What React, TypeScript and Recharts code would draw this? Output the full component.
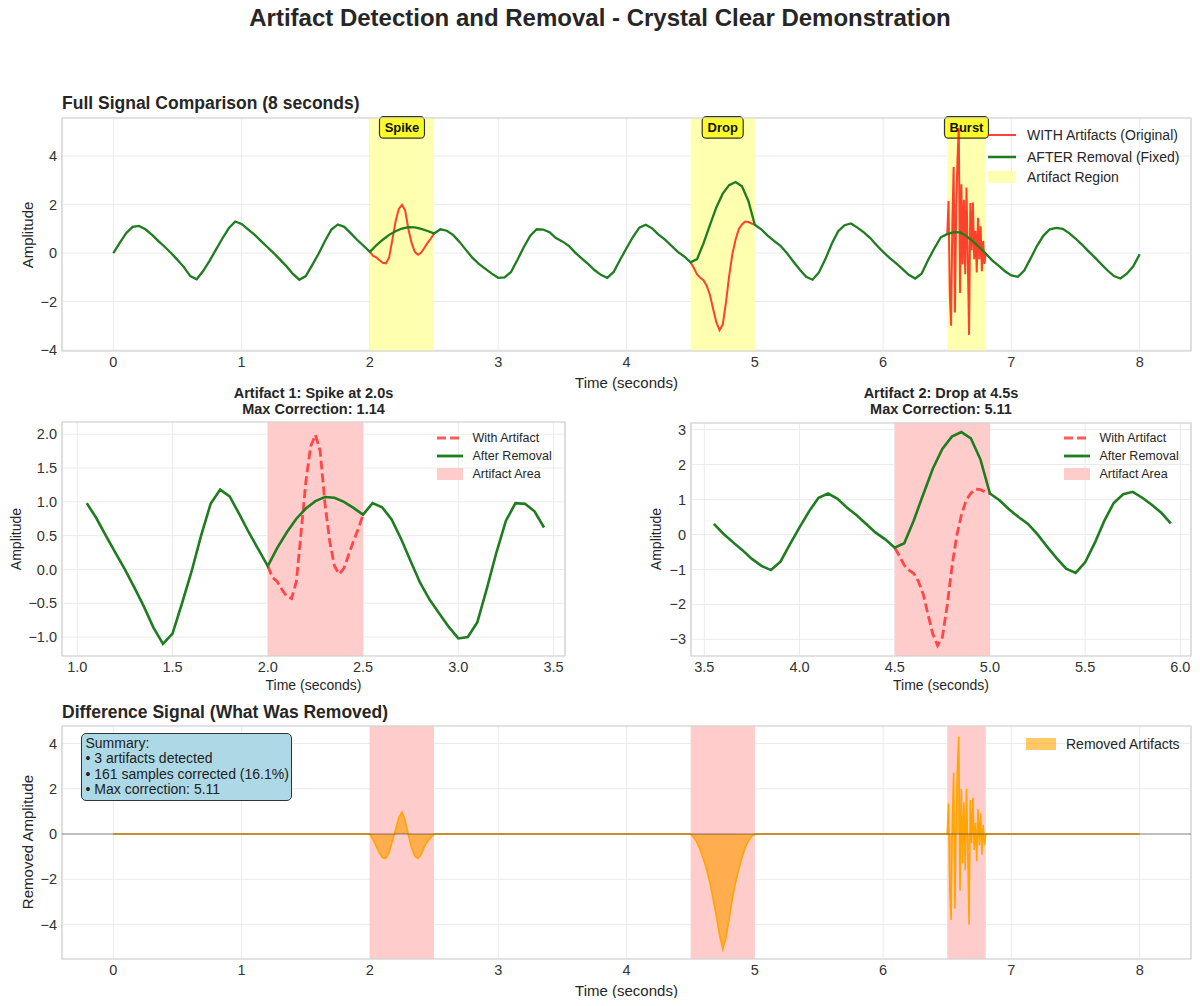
import React from 'react';
import {
  ComposedChart,
  Line,
  Area,
  XAxis,
  YAxis,
  CartesianGrid,
  ReferenceArea,
  ReferenceLine,
} from 'recharts';

const FONT = 'Arial, "Liberation Sans", Helvetica, sans-serif';

// clean / fixed signal, one value every 0.05 s from 0 to 8 s
const CLEAN_STEP = 0.05;
const cleanSignal = [
  0.0, 0.42, 0.82, 1.08, 1.12, 0.98, 0.76, 0.5, 0.26, 0.0,
  -0.28, -0.58, -0.95, -1.08, -0.74, -0.32, 0.14, 0.6, 1.02, 1.3,
  1.2, 0.98, 0.76, 0.5, 0.25, 0.0, -0.27, -0.55, -0.86, -1.1,
  -0.95, -0.5, -0.03, 0.5, 0.97, 1.18, 1.08, 0.82, 0.55, 0.3,
  0.05, 0.32, 0.55, 0.75, 0.9, 1.01, 1.07, 1.06, 1.0, 0.91,
  0.81, 0.98, 0.92, 0.74, 0.45, 0.12, -0.2, -0.45, -0.65, -0.85,
  -1.02, -1.0, -0.78, -0.28, 0.25, 0.72, 0.98, 0.97, 0.86, 0.62,
  0.48, 0.3, 0.02, -0.22, -0.45, -0.7, -0.9, -1.02, -0.78, -0.28,
  0.2, 0.66, 1.05, 1.17, 1.02, 0.76, 0.55, 0.3, 0.05, -0.14,
  -0.38, -0.25, 0.4, 1.15, 1.88, 2.45, 2.8, 2.93, 2.75, 2.15,
  1.17, 0.98, 0.72, 0.5, 0.3, 0.0, -0.35, -0.68, -0.98, -1.1,
  -0.8, -0.25, 0.38, 0.9, 1.15, 1.22, 1.05, 0.85, 0.62, 0.32,
  0.05, -0.2, -0.42, -0.65, -0.9, -1.05, -0.85, -0.3, 0.2, 0.65,
  0.78, 0.86, 0.85, 0.7, 0.48, 0.24, -0.02, -0.3, -0.52, -0.75,
  -0.92, -0.98, -0.72, -0.22, 0.3, 0.72, 0.98, 1.04, 1.0, 0.82,
  0.6, 0.35, 0.08, -0.18, -0.45, -0.72, -0.95, -1.05, -0.85, -0.55,
  -0.05,
];

// original signal inside the artifact windows
const ARTIFACT_STEP = 0.025;
const BURST_STEP = 0.01;
const spikeOriginal = [
  0.05, -0.12, -0.18, -0.3, -0.4, -0.43, -0.18, 0.55, 1.3, 1.82, 1.99,
  1.75, 0.98, 0.42, 0.05, -0.07, 0.02, 0.22, 0.42, 0.6, 0.81,
];
const dropOriginal = [
  -0.38, -0.62, -0.88, -1.02, -1.12, -1.35, -1.72, -2.3, -2.85, -3.18, -2.95,
  -2.05, -0.95, -0.05, 0.55, 0.98, 1.18, 1.3, 1.28, 1.22, 1.17,
];
const burstOriginal = [
  0.78, 2.15, -1.7, -3.0, 1.3, 3.55, -2.45, 1.87, 3.87, 5.15, -1.65,
  2.84, -0.47, 2.2, -0.87, 2.7, -0.15, -3.38, 2.06, 0.12, 2.08,
  -0.25, 0.92, -0.8, 1.45, -0.25, 1.1, -0.75, 0.5, -0.45, -0.02,
];

// what was removed (original minus fixed)
const spikeRemoved = [
  0, -0.25, -0.55, -0.85, -1.05, -1.08, -0.8, -0.3, 0.2, 0.72, 0.98,
  0.6, -0.05, -0.62, -0.98, -1.08, -0.9, -0.55, -0.32, -0.15, 0,
];
const dropRemoved = [
  0, -0.15, -0.38, -0.7, -1.1, -1.58, -2.15, -2.85, -3.6, -4.45, -5.08,
  -4.6, -3.75, -2.85, -2.15, -1.55, -1.05, -0.6, -0.3, -0.1, 0,
];
const burstRemoved = [
  0, 1.35, -2.5, -3.8, 0.5, 2.7, -3.3, 1.0, 3.0, 4.3, -2.5,
  2.0, -1.3, 1.4, -1.6, 2.0, -0.8, -4.0, 1.5, -0.4, 1.6,
  -0.7, 0.5, -1.2, 1.1, -0.5, 0.9, -0.9, 0.4, -0.5, 0,
];

const artifacts = [
  { name: 'Spike', start: 2.0, end: 2.5, tagWidth: 45 },
  { name: 'Drop', start: 4.5, end: 5.0, tagWidth: 41 },
  { name: 'Burst', start: 6.5, end: 6.8, tagWidth: 44 },
];

const fullXTicks = [0, 1, 2, 3, 4, 5, 6, 7, 8];
const fullYTicks = [-4, -2, 0, 2, 4];
const zoom1XTicks = [1.0, 1.5, 2.0, 2.5, 3.0, 3.5];
const zoom1YTicks = [-1.0, -0.5, 0, 0.5, 1.0, 1.5, 2.0];
const zoom2XTicks = [3.5, 4.0, 4.5, 5.0, 5.5, 6.0];
const zoom2YTicks = [-3, -2, -1, 0, 1, 2, 3];
const zoom1Window = [1.05, 3.45];
const zoom2Window = [3.55, 5.95];

const summaryLines = [
  'Summary:',
  '• 3 artifacts detected',
  '• 161 samples corrected (16.1%)',
  '• Max correction: 5.11',
];

const GREEN = '#1e7d1e';
const GRID = '#ebebeb';
const FRAME = '#d0d0d0';
const TICK = { fill: '#333', fontSize: 14.5 };

const toPoints = (values: number[], start: number, step: number) =>
  values.map((v, i) => ({ t: +(start + i * step).toFixed(3), v }));

const cleanPoints = toPoints(cleanSignal, 0, CLEAN_STEP);
const spikePoints = toPoints(spikeOriginal, 2.0, ARTIFACT_STEP);
const dropPoints = toPoints(dropOriginal, 4.5, ARTIFACT_STEP);
const burstPoints = toPoints(burstOriginal, 6.5, BURST_STEP);
const removedPoints = [
  { t: 0, v: 0 },
  ...toPoints(spikeRemoved, 2.0, ARTIFACT_STEP),
  ...toPoints(dropRemoved, 4.5, ARTIFACT_STEP),
  ...toPoints(burstRemoved, 6.5, BURST_STEP),
  { t: 8, v: 0 },
];
const windowed = (w: number[]) =>
  cleanPoints.filter((p) => p.t >= w[0] - 1e-9 && p.t <= w[1] + 1e-9);

const fmtInt = (v: number) => (v < 0 ? `\u2212${-v}` : `${v}`);
const fmt1 = (v: number) => (v < 0 ? '\u2212' : '') + Math.abs(v).toFixed(1);

function Txt({ x, y, size, bold, rotate, anchor = 'middle', children }: any) {
  const tx = anchor === 'start' ? '0' : '-50%';
  return (
    <div
      style={{
        position: 'absolute',
        left: x,
        top: y,
        transform: `translate(${tx},-50%)${rotate ? ' rotate(-90deg)' : ''}`,
        fontSize: size,
        fontWeight: bold ? 700 : 400,
        whiteSpace: 'nowrap',
        color: '#262626',
        lineHeight: 1,
      }}
    >
      {children}
    </div>
  );
}

function SpanTag({ viewBox, text, width }: any) {
  if (!viewBox) return null;
  const cx = viewBox.x + viewBox.width / 2;
  const y = viewBox.y - 1.3;
  return (
    <g>
      <rect x={cx - width / 2} y={y} width={width} height={21.5} rx={4} fill="#fbfb2a" stroke="#333" strokeWidth={1.2} />
      <text x={cx} y={y + 11} textAnchor="middle" dominantBaseline="central" fontSize={13} fontWeight={700} fill="#111" fontFamily={FONT}>
        {text}
      </text>
    </g>
  );
}

// legend drawn as plain html so it does not shrink the plot area
function LegendBox({ sampleX, sampleW, textX, rows, items, size }: any) {
  return (
    <>
      {items.map((it: any, i: number) => (
        <React.Fragment key={it.label}>
          <svg style={{ position: 'absolute', left: sampleX, top: rows[i] - 7 }} width={sampleW} height={14}>
            {it.kind === 'patch' ? (
              <rect x={0} y={1} width={sampleW} height={12} fill={it.color} fillOpacity={it.opacity ?? 1} />
            ) : (
              <line
                x1={0}
                x2={sampleW}
                y1={7}
                y2={7}
                stroke={it.color}
                strokeOpacity={it.opacity ?? 1}
                strokeWidth={it.width ?? 2}
                strokeDasharray={it.kind === 'dash' ? '9 4' : undefined}
              />
            )}
          </svg>
          <Txt x={textX} y={rows[i]} size={size} anchor="start">
            {it.label}
          </Txt>
        </React.Fragment>
      ))}
    </>
  );
}

function Frame({ x, y }: { x: number[]; y: number[] }) {
  return <ReferenceArea x1={x[0]} x2={x[1]} y1={y[0]} y2={y[1]} fill="none" stroke={FRAME} strokeWidth={1.2} ifOverflow="visible" />;
}

function FullChart() {
  const xDom = [-0.4, 8.4];
  const yDom = [-4.04, 5.57];
  return (
    <div style={{ position: 'absolute', left: 0, top: 100 }}>
      <ComposedChart width={1200} height={285} margin={{ top: 18, right: 9, left: 0, bottom: 0 }}>
        <CartesianGrid stroke={GRID} />
        <XAxis type="number" dataKey="t" domain={xDom} ticks={fullXTicks} allowDataOverflow height={34} tickSize={0} tickMargin={6} axisLine={false} tick={TICK} tickFormatter={fmtInt} interval={0} />
        <YAxis type="number" domain={yDom} ticks={fullYTicks} allowDataOverflow width={62} tickSize={0} tickMargin={5} axisLine={false} tick={TICK} tickFormatter={fmtInt} interval={0} />
        {artifacts.map((a) => (
          <ReferenceArea key={a.name} x1={a.start} x2={a.end} fill="#ffffb0" fillOpacity={1} stroke="none" />
        ))}
        {[spikePoints, dropPoints, burstPoints].map((pts, i) => (
          <Line key={i} data={pts} dataKey="v" type="linear" stroke="#ff0000" strokeOpacity={0.75} strokeWidth={2} dot={false} activeDot={false} isAnimationActive={false} />
        ))}
        <Line data={cleanPoints} dataKey="v" type="linear" stroke={GREEN} strokeWidth={2.3} dot={false} activeDot={false} isAnimationActive={false} />
        {artifacts.map((a) => (
          <ReferenceArea key={`tag-${a.name}`} x1={a.start} x2={a.end} fill="none" stroke="none" label={<SpanTag text={a.name} width={a.tagWidth} />} />
        ))}
        <Frame x={xDom} y={yDom} />
      </ComposedChart>
    </div>
  );
}

function ZoomChart({ left, yWidth, right, top, xDom, yDom, xTicks, yTicks, window, artifactPts, span }: any) {
  return (
    <div style={{ position: 'absolute', left, top: 415 }}>
      <ComposedChart width={600} height={270} margin={{ top, right, left: 0, bottom: 0 }}>
        <CartesianGrid stroke={GRID} />
        <XAxis type="number" dataKey="t" domain={xDom} ticks={xTicks} allowDataOverflow height={29} tickSize={0} tickMargin={6} axisLine={false} tick={TICK} tickFormatter={fmt1} interval={0} />
        <YAxis type="number" domain={yDom} ticks={yTicks} allowDataOverflow width={yWidth} tickSize={0} tickMargin={5} axisLine={false} tick={TICK} tickFormatter={yTicks.some((v: number) => v % 1 !== 0) ? fmt1 : fmtInt} interval={0} />
        <ReferenceArea x1={span.start} x2={span.end} fill="#ffcccc" fillOpacity={1} stroke="none" />
        <Line data={artifactPts} dataKey="v" type="linear" stroke="#ff0000" strokeOpacity={0.65} strokeWidth={2.8} strokeDasharray="9 4" dot={false} activeDot={false} isAnimationActive={false} />
        <Line data={windowed(window)} dataKey="v" type="linear" stroke={GREEN} strokeWidth={2.6} dot={false} activeDot={false} isAnimationActive={false} />
        <Frame x={xDom} y={yDom} />
      </ComposedChart>
    </div>
  );
}

function RemovedChart() {
  const xDom = [-0.4, 8.4];
  const yDom = [-5.52, 4.77];
  return (
    <div style={{ position: 'absolute', left: 0, top: 720 }}>
      <ComposedChart width={1200} height={265} margin={{ top: 6, right: 9, left: 0, bottom: 0 }}>
        <CartesianGrid stroke={GRID} />
        <XAxis type="number" dataKey="t" domain={xDom} ticks={fullXTicks} allowDataOverflow height={26} tickSize={0} tickMargin={6} axisLine={false} tick={TICK} tickFormatter={fmtInt} interval={0} />
        <YAxis type="number" domain={yDom} ticks={fullYTicks} allowDataOverflow width={62} tickSize={0} tickMargin={5} axisLine={false} tick={TICK} tickFormatter={fmtInt} interval={0} />
        {artifacts.map((a) => (
          <ReferenceArea key={a.name} x1={a.start} x2={a.end} fill="#ffcccc" fillOpacity={1} stroke="none" />
        ))}
        <Area data={removedPoints} dataKey="v" type="linear" baseValue={0} stroke="#ffa500" strokeWidth={1.6} fill="#ff9f1a" fillOpacity={0.7} dot={false} activeDot={false} isAnimationActive={false} />
        <ReferenceLine y={0} stroke="#000" strokeOpacity={0.3} strokeWidth={1.5} />
        <Frame x={xDom} y={yDom} />
      </ComposedChart>
    </div>
  );
}

export default function App() {
  return (
    <div style={{ position: 'relative', width: 1200, height: 1006, margin: -8, background: '#fff', fontFamily: FONT, overflow: 'hidden' }}>
      <Txt x={600} y={18} size={24} bold>
        Artifact Detection and Removal - Crystal Clear Demonstration
      </Txt>

      {/* full signal */}
      <Txt x={62} y={104} size={17.5} bold anchor="start">
        Full Signal Comparison (8 seconds)
      </Txt>
      <FullChart />
      <Txt x={626.5} y={382} size={15}>Time (seconds)</Txt>
      <Txt x={27} y={234.5} size={15} rotate>Amplitude</Txt>
      <LegendBox
        sampleX={988}
        sampleW={28}
        textX={1027}
        rows={[135, 157, 177]}
        size={14}
        items={[
          { label: 'WITH Artifacts (Original)', kind: 'line', color: '#ff0000', opacity: 0.75 },
          { label: 'AFTER Removal (Fixed)', kind: 'line', color: GREEN, width: 2.5 },
          { label: 'Artifact Region', kind: 'patch', color: '#ffffb0' },
        ]}
      />

      {/* zoom 1 */}
      <Txt x={313.5} y={393} size={14.5} bold>Artifact 1: Spike at 2.0s</Txt>
      <Txt x={313.5} y={409} size={14.5} bold>Max Correction: 1.14</Txt>
      <ZoomChart
        left={0}
        yWidth={62}
        right={35}
        top={7}
        xDom={[0.92, 3.56]}
        yDom={[-1.28, 2.18]}
        xTicks={zoom1XTicks}
        yTicks={zoom1YTicks}
        window={zoom1Window}
        artifactPts={spikePoints}
        span={artifacts[0]}
      />
      <Txt x={313.5} y={685} size={14}>Time (seconds)</Txt>
      <Txt x={16} y={539} size={14} rotate>Amplitude</Txt>

      {/* zoom 2 */}
      <Txt x={941} y={393} size={14.5} bold>Artifact 2: Drop at 4.5s</Txt>
      <Txt x={941} y={409} size={14.5} bold>Max Correction: 5.11</Txt>
      <ZoomChart
        left={600}
        yWidth={91}
        right={9}
        top={8}
        xDom={[3.43, 6.056]}
        yDom={[-3.48, 3.19]}
        xTicks={zoom2XTicks}
        yTicks={zoom2YTicks}
        window={zoom2Window}
        artifactPts={dropPoints}
        span={artifacts[1]}
      />
      <Txt x={941} y={685} size={14}>Time (seconds)</Txt>
      <Txt x={655.5} y={539} size={14} rotate>Amplitude</Txt>
      {[
        { sampleX: 437, textX: 472.5 },
        { sampleX: 1064, textX: 1099.5 },
      ].map((l) => (
        <LegendBox
          key={l.sampleX}
          sampleX={l.sampleX}
          sampleW={26}
          textX={l.textX}
          rows={[438, 456, 474]}
          size={12.5}
          items={[
            { label: 'With Artifact', kind: 'dash', color: '#ff0000', opacity: 0.65, width: 2.8 },
            { label: 'After Removal', kind: 'line', color: GREEN, width: 2.8 },
            { label: 'Artifact Area', kind: 'patch', color: '#ffcccc' },
          ]}
        />
      ))}

      {/* difference */}
      <Txt x={62} y={713} size={17.5} bold anchor="start">
        Difference Signal (What Was Removed)
      </Txt>
      <RemovedChart />
      <Txt x={626.5} y={990} size={15}>Time (seconds)</Txt>
      <Txt x={27} y={842} size={15} rotate>Removed Amplitude</Txt>
      <LegendBox
        sampleX={1026}
        sampleW={30}
        textX={1066}
        rows={[744]}
        size={14}
        items={[{ label: 'Removed Artifacts', kind: 'patch', color: '#ffa500', opacity: 0.6 }]}
      />
      <div
        style={{
          position: 'absolute',
          left: 81,
          top: 733,
          width: 211,
          height: 68,
          boxSizing: 'border-box',
          border: '1.5px solid #333',
          borderRadius: 5,
          background: '#add8e6',
          padding: '2px 0 0 3.5px',
          fontSize: 14,
          lineHeight: '15.4px',
          color: '#222',
          whiteSpace: 'nowrap',
        }}
      >
        {summaryLines.map((s) => (
          <div key={s}>{s}</div>
        ))}
      </div>
    </div>
  );
}
